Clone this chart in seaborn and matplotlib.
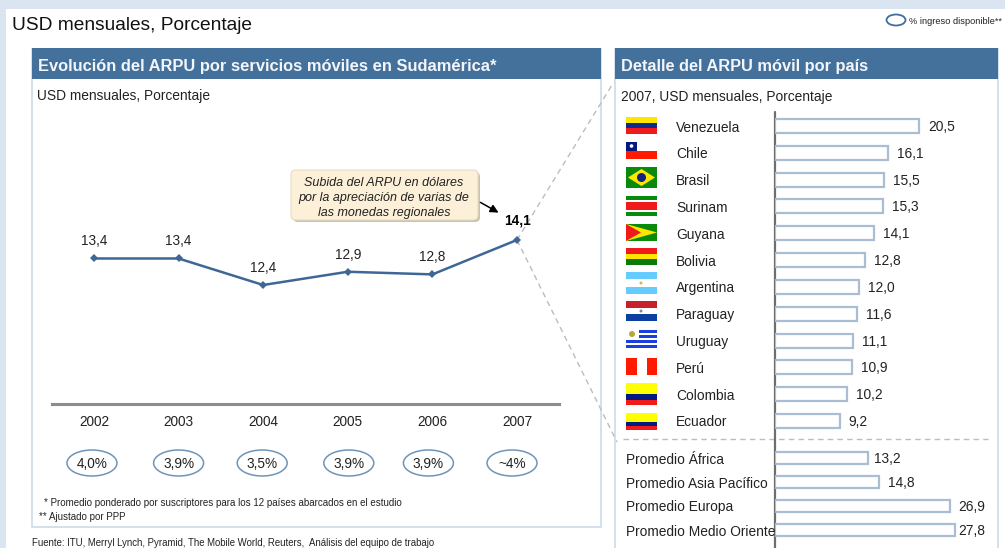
import matplotlib
matplotlib.use('Agg')
import matplotlib.pyplot as plt
from matplotlib.patches import Rectangle, Ellipse, FancyBboxPatch, Polygon, Circle
import pandas as pd
import seaborn as sns

years = ['2002', '2003', '2004', '2005', '2006', '2007']
arpu = [13.4, 13.4, 12.4, 12.9, 12.8, 14.1]
arpu_labels = ['13,4', '13,4', '12,4', '12,9', '12,8', '14,1']
income_share = ['4,0%', '3,9%', '3,5%', '3,9%', '3,9%', '~4%']

countries = ['Venezuela', 'Chile', 'Brasil', 'Surinam', 'Guyana', 'Bolivia',
             'Argentina', 'Paraguay', 'Uruguay', 'Perú', 'Colombia', 'Ecuador']
country_arpu = [20.5, 16.1, 15.5, 15.3, 14.1, 12.8, 12.0, 11.6, 11.1, 10.9, 10.2, 9.2]
country_labels = ['20,5', '16,1', '15,5', '15,3', '14,1', '12,8', '12,0', '11,6', '11,1', '10,9', '10,2', '9,2']

regions = ['Promedio África', 'Promedio Asia Pacífico', 'Promedio Europa', 'Promedio Medio Oriente']
# the two long bars are drawn shorter than their printed values in the original
region_arpu = [13.2, 14.8, 24.9, 25.6]
region_labels = ['13,2', '14,8', '26,9', '27,8']

W, H = 1005, 548
BLUE = '#44709c'
LINE = '#3f6796'
TEXT = '#222222'
DASH = '#bdbdbd'

sns.set_theme(style='white')
plt.rcParams['font.family'] = ['Liberation Sans', 'DejaVu Sans']

fig = plt.figure(figsize=(W / 100, H / 100), dpi=100, facecolor='white')


def px_axes(left, top, right, bottom):
    return fig.add_axes([left / W, 1 - bottom / H, (right - left) / W, (bottom - top) / H])


# background layer in pixel coordinates
bg = fig.add_axes([0, 0, 1, 1], zorder=0)
bg.set_xlim(0, W)
bg.set_ylim(H, 0)
bg.axis('off')
bg.add_patch(Rectangle((0, 0), W, 9, color='#dbe5f1', lw=0))
bg.add_patch(Rectangle((0, 0), 6, H, color='#dbe5f1', lw=0))
bg.add_patch(Rectangle((32, 49), 569, 478, fc='white', ec='#cddaea', lw=1.2))
bg.add_patch(Rectangle((615, 49), 383, 510, fc='white', ec='#cddaea', lw=1.2))
bg.add_patch(Rectangle((32, 48), 569, 31, color=BLUE, lw=0))
bg.add_patch(Rectangle((615, 48), 383, 31, color=BLUE, lw=0))
bg.text(12, 25, 'USD mensuales, Porcentaje', fontsize=13.8, color='#111111', va='center')
bg.text(38, 66.5, 'Evolución del ARPU por servicios móviles en Sudamérica*', fontsize=11.9,
        fontweight='bold', color='#f2f5f9', va='center')
bg.text(621, 66.5, 'Detalle del ARPU móvil por país', fontsize=11.8, fontweight='bold',
        color='#f2f5f9', va='center')
bg.text(37, 96, 'USD mensuales, Porcentaje', fontsize=9.95, color=TEXT, va='center')
bg.text(621, 97, '2007, USD mensuales, Porcentaje', fontsize=9.9, color=TEXT, va='center')
bg.add_patch(Ellipse((896, 20), 19, 11, fc='white', ec='#3f6f9f', lw=1.3))
bg.text(909, 21, '% ingreso disponible**', fontsize=6.7, color=TEXT, va='center')
bg.text(44, 503, '* Promedio ponderado por suscriptores para los 12 países abarcados en el estudio',
        fontsize=7.05, color=TEXT, va='center')
bg.text(39, 517, '** Ajustado por PPP', fontsize=7.05, color=TEXT, va='center')
bg.text(32, 543, 'Fuente: ITU, Merryl Lynch, Pyramid, The Mobile World, Reuters,  Análisis del equipo de trabajo',
        fontsize=6.9, color=TEXT, va='center')

# zoom lines between the two panels
bg.plot([517, 612], [240, 85], color=DASH, lw=1, ls=(0, (4, 3)))
bg.plot([517, 617], [240, 442], color=DASH, lw=1, ls=(0, (4, 3)))
bg.plot([623, 988], [439, 439], color=DASH, lw=1, ls=(0, (4, 3)))

# line chart
line_df = pd.DataFrame({'year': [int(y) for y in years], 'arpu': arpu})
ax = px_axes(52, 100, 559, 404)
ax.patch.set_alpha(0)
sns.lineplot(data=line_df, x='year', y='arpu', ax=ax, color=LINE, lw=1.8, marker='D', ms=4.5,
             markeredgewidth=0, errorbar=None)
ax.set_xlim(2001.504, 2007.496)
ax.set_ylim(7.91, 19.38)
ax.set_xticks(line_df['year'], years)
ax.set_yticks([])
ax.set_xlabel('')
ax.set_ylabel('')
sns.despine(ax=ax, left=True)
ax.spines['bottom'].set_color('#8c8c8c')
ax.spines['bottom'].set_linewidth(2.2)
ax.tick_params(axis='x', length=0, pad=8, labelsize=9.8, labelcolor=TEXT)
for year, val, lab in zip(line_df['year'], arpu, arpu_labels):
    bold = lab == arpu_labels[-1]
    ax.annotate(lab, (year, val), xytext=(0, 19 if bold else 17), textcoords='offset pixels',
                ha='center', va='center', fontsize=9.8, color='black' if bold else TEXT,
                fontweight='bold' if bold else 'normal')

# income share ovals sit a little off the year centres in the original
oval_shift = [-2, 0, -1, 1, -4, -5]
for year, share, dx in zip(line_df['year'], income_share, oval_shift):
    x_px = 52 + (year - 2001.504) / (2007.496 - 2001.504) * 507 + dx
    bg.add_patch(Ellipse((x_px, 463), 50, 26, fc='white', ec='#6f94b8', lw=1.1))
    bg.text(x_px, 463.5, share, fontsize=9.8, color=TEXT, ha='center', va='center')

# callout
bg.add_patch(FancyBboxPatch((293, 172), 187, 50, boxstyle='round,pad=0,rounding_size=5',
                            fc='#c9c2ac', ec='none', zorder=2))
bg.add_patch(FancyBboxPatch((291, 170), 187, 50, boxstyle='round,pad=0,rounding_size=5',
                            fc='#fdf0d8', ec='#e6dcc4', lw=0.8, zorder=3))
bg.text(384, 198, 'Subida del ARPU en dólares\npor la apreciación de varias de\nlas monedas regionales',
        fontsize=9, style='italic', color=TEXT, ha='center', va='center', linespacing=1.3, zorder=4)
bg.annotate('', xy=(501, 214), xytext=(478, 201),
            arrowprops=dict(arrowstyle='-|>', color='black', lw=1.1), zorder=4)


def stripes(y0, y1, colors, weights=None):
    weights = weights or [1] * len(colors)
    y = y0
    step = (y1 - y0) / sum(weights)
    for c, wt in zip(colors, weights):
        bg.add_patch(Rectangle((626, y), 31, step * wt, color=c, lw=0))
        y += step * wt


# flags
stripes(117, 134, ['#ffe600', '#0b2a8a', '#f01a1a'])
stripes(142, 159, ['white', '#ff1a00'])
bg.add_patch(Rectangle((626, 142), 11, 8.5, color='#001a80', lw=0))
bg.add_patch(Circle((631.5, 146), 1.8, color='white', lw=0))
bg.add_patch(Rectangle((626, 167), 31, 21, color='#0a8a0a', lw=0))
bg.add_patch(Polygon([(628, 177.5), (641.5, 169), (655, 177.5), (641.5, 186)], color='#ffe600', lw=0))
bg.add_patch(Circle((641.5, 177.5), 4.5, color='#12237f', lw=0))
stripes(196, 216, ['#0a8a0a', 'white', '#f01a1a', 'white', '#0a8a0a'], [2, 1, 4, 1, 2])
bg.add_patch(Rectangle((626, 224), 31, 17, color='#0a8a0a', lw=0))
bg.add_patch(Polygon([(626, 224), (657, 232.5), (626, 241)], color='#ffe600', lw=0))
bg.add_patch(Polygon([(626, 224), (641, 232.5), (626, 241)], color='#f01a1a', lw=0))
stripes(248, 265, ['#f01a1a', '#ffe600', '#0a7a0a'])
stripes(272, 294, ['#66ccff', 'white', '#66ccff'])
bg.add_patch(Circle((641, 283), 1.5, color='#d9b84a', lw=0))
stripes(301, 321, ['#c8202a', 'white', '#0b3fa0'])
bg.add_patch(Circle((641, 311), 1.5, color='#99808a', lw=0))
stripes(330, 348, ['#1a3fe0', 'white', '#1a3fe0', 'white', '#1a3fe0', 'white', '#1a3fe0'])
bg.add_patch(Rectangle((626, 330), 13, 10, color='white', lw=0))
bg.add_patch(Circle((632, 334), 3, color='#b8a83a', lw=0))
bg.add_patch(Rectangle((626, 358), 10.5, 17, color='#ff1a00', lw=0))
bg.add_patch(Rectangle((646.5, 358), 10.5, 17, color='#ff1a00', lw=0))
stripes(383, 405, ['#ffff00', '#001a80', '#f01a1a'], [2, 1, 1])
stripes(413, 430, ['#ffff00', '#001a80', '#f01a1a'], [2, 1, 1])


def bars(axb, names, vals, labels, label_pad, gaps):
    df = pd.DataFrame({'name': names, 'value': vals})
    sns.barplot(data=df, y='name', x='value', ax=axb, color='white', edgecolor='#a9bdd3',
                linewidth=1.6, width=0.52, orient='h', errorbar=None)
    axb.set_xlim(0, 32)
    axb.set_xlabel('')
    axb.set_ylabel('')
    axb.set_xticks([])
    axb.patch.set_alpha(0)
    sns.despine(ax=axb, left=True, bottom=True)
    axb.tick_params(axis='y', length=0, pad=label_pad, labelsize=9.9, labelcolor=TEXT)
    for t in axb.get_yticklabels():
        t.set_ha('left')
    for i, (v, lab, gap) in enumerate(zip(vals, labels, gaps)):
        axb.annotate(lab, (v, i), xytext=(gap, -1), textcoords='offset pixels', va='center',
                     fontsize=9.9, color=TEXT, annotation_clip=False)


# bar charts, same x scale for both; tick pad is in points
ax_c = px_axes(775, 112.6, 1000, 434.4)
bars(ax_c, countries, country_arpu, country_labels, 71.3, [9] * 12)
ax_r = px_axes(775, 446, 1000, 542)
bars(ax_r, regions, region_arpu, region_labels, 107.3, [6, 9, 8, 3])
bg.plot([775, 775], [112, 548], color='#6e6e6e', lw=1.6, zorder=5)
for a in (ax_c, ax_r):
    a.set_zorder(2)
ax.set_zorder(2)

fig.savefig('out.png', dpi=100)
